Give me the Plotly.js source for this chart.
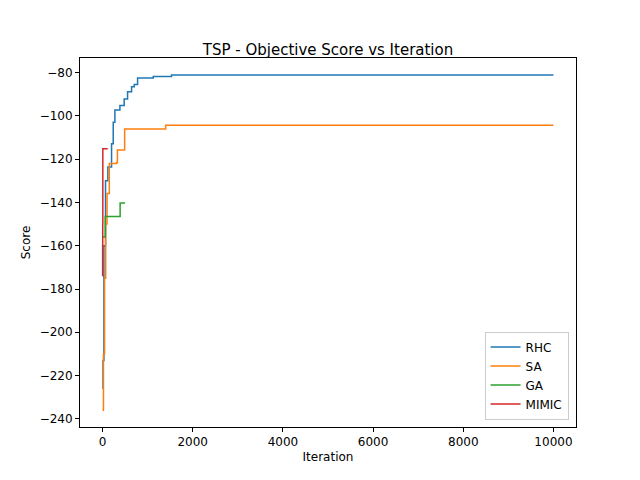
<!DOCTYPE html>
<html>
<head>
<script src="https://cdn.plot.ly/plotly-3.0.1.min.js"></script>
<style>body{margin:0}</style>
</head>
<body>
<div id="chart" style="width:640px;height:480px"></div>
<script>
// values (step curves)
const rhcX = [0, 10, 30, 66, 118, 200, 237, 274, 385, 480, 555, 644, 703, 777, 1125, 1530, 10000];
const rhcY = [-226, -213, -160, -130, -123.6, -112.9, -102.9, -97.2, -95.2, -92.1, -88.8, -86.5, -85.4, -82.5, -81.8, -81.1, -81.1];
const saX = [0, 20, 44, 70, 100, 150, 310, 330, 470, 490, 1330, 1400, 10000];
const saY = [-236, -210, -175, -150, -135.8, -122, -121.5, -115.7, -115.7, -106, -106, -104.3, -104.3];
const gaX = [0, 60, 390, 500];
const gaY = [-156, -146.5, -140.2, -140.2];
const mimicX = [0, 2, 4, 6, 115];
const mimicY = [-174, -160, -150, -115.2, -115.2];

const names = ['RHC', 'SA', 'GA', 'MIMIC'];
const colors = ['#1f77b4', '#ff7f0e', '#2ca02c', '#d62728'];
const xs = [rhcX, saX, gaX, mimicX];
const ys = [rhcY, saY, gaY, mimicY];
const xTicks = [0, 2000, 4000, 6000, 8000, 10000];
const yTicks = [-240, -220, -200, -180, -160, -140, -120, -100, -80];

let data = names.map((n, i) => ({
    x: xs[i], y: ys[i], name: n, type: 'scatter', mode: 'lines',
    line: { color: colors[i], width: 1.5, shape: 'hv' }
}));

let axis = {
    showgrid: false, zeroline: false, showline: true, mirror: true,
    linecolor: 'black', linewidth: 1, ticks: 'outside', ticklen: 4,
    tickcolor: 'black', tickfont: { size: 12 }
};

let layout = {
    width: 640, height: 480,
    margin: { l: 80, r: 64, t: 58, b: 53 },
    font: { family: 'DejaVu Sans', color: 'black' },
    paper_bgcolor: 'white', plot_bgcolor: 'white',
    title: { text: 'TSP - Objective Score vs Iteration', font: { size: 15 }, x: 0.5, xref: 'paper', y: 0.885, yanchor: 'bottom' },
    xaxis: Object.assign({}, axis, { range: [-500, 10500], tickvals: xTicks, ticktext: xTicks.map(String),
        title: { text: 'Iteration', font: { size: 12 }, standoff: 4 } }),
    yaxis: Object.assign({}, axis, { range: [-243.8, -73.2], tickvals: yTicks,
        ticktext: yTicks.map(v => '−' + Math.abs(v)),
        title: { text: 'Score', font: { size: 12 }, standoff: 6 } }),
    legend: { x: 0.985, y: 0.02, xanchor: 'right', yanchor: 'bottom', bordercolor: '#cccccc', borderwidth: 1,
        bgcolor: 'rgba(255,255,255,0.8)', font: { size: 12 } },
    showlegend: true
};

Plotly.newPlot('chart', data, layout, { displayModeBar: false });
</script>
</body>
</html>
